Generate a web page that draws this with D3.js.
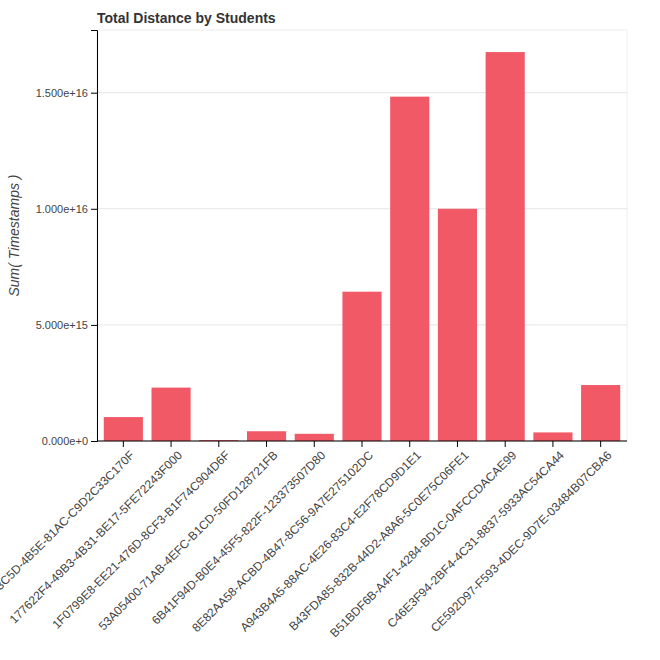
<!DOCTYPE html><html><head><script src="https://cdn.jsdelivr.net/npm/d3@7"></script>
<style>body{margin:0}text{font-family:Arial,"Liberation Sans",sans-serif}</style></head><body><svg id="c" width="660" height="660"></svg><script>
const categories=["0A3F1E2C-3C5D-4B5E-81AC-C9D2C33C170F","177622F4-49B3-4B31-BE17-5FE72243F000","1F0799E8-EE21-476D-8CF3-B1F74C904D6F","53A05400-71AB-4EFC-B1CD-50FD128721FB","6B41F94D-B0E4-45F5-822F-12337350 7D80".replace(" ",""),"8E82AA58-ACBD-4B47-8C56-9A7E275102DC","A943B4A5-88AC-4E26-83C4-E2F78CD9D1E1","B43FDA85-832B-44D2-A8A6-5C0E75C06FE1","B51BDF6B-A4F1-4284-BD1C-0AFCCDACAE99","C46E3F94-2BF4-4C31-8837-5933AC54CA44","CE592D97-F593-4DEC-9D7E-03484B07CBA6"];
const values=[1.03e15,2.3e15,0.04e15,0.42e15,0.31e15,6.43e15,1.483e16,1.0e16,1.675e16,0.37e15,2.41e15];
const yTicks=[0,5e15,1e16,1.5e16];
const svg=d3.select("#c"),L=97,R=627,T=30,B=441;
const x=d3.scaleBand().domain(categories).range([L+2,R-2]).paddingInner(0.18).paddingOuter(0.1);
const y=d3.scaleLinear().domain([0,1.77e16]).range([B,T]);
svg.append("rect").attr("x",L).attr("y",T).attr("width",R-L).attr("height",B-T).attr("fill","none").attr("stroke","#eee");
svg.append("g").selectAll("line").data(yTicks).join("line").attr("x1",L).attr("x2",R).attr("y1",d=>y(d)).attr("y2",d=>y(d)).attr("stroke","#e5e5e5");
svg.append("g").selectAll("rect").data(values).join("rect").attr("x",(d,i)=>x(categories[i])).attr("width",x.bandwidth()).attr("y",d=>y(d)).attr("height",d=>B-y(d)).attr("fill","#f0505f").attr("fill-opacity",0.95);
const fmt=d=>{if(d===0)return"0.000e+0";const e=Math.floor(Math.log10(d));return (d/10**e).toFixed(3)+"e+"+e;};
const ya=svg.append("g").attr("transform",`translate(${L},0)`).call(d3.axisLeft(y).tickValues(yTicks).tickFormat(fmt).tickSizeOuter(0).tickSize(6));
ya.selectAll("text").attr("font-size",11).attr("fill","#444");
const xa=svg.append("g").attr("transform",`translate(0,${B})`).call(d3.axisBottom(x).tickSizeOuter(0).tickSize(6));
xa.select(".domain").attr("d",`M${L},0H${R}`);
xa.selectAll("text").attr("font-size",12).attr("fill","#444").attr("text-anchor","end").attr("transform","translate(3,6) rotate(-45)").attr("dy","0.3em");
svg.append("text").attr("x",L).attr("y",23).attr("font-size",14).attr("font-weight","bold").attr("fill","#333").text("Total Distance by Students");
svg.append("text").attr("transform",`translate(19,${(T+B)/2}) rotate(-90)`).attr("text-anchor","middle").attr("font-size",14).attr("font-style","italic").attr("fill","#444").text("Sum( Timestamps )");
</script></body></html>
